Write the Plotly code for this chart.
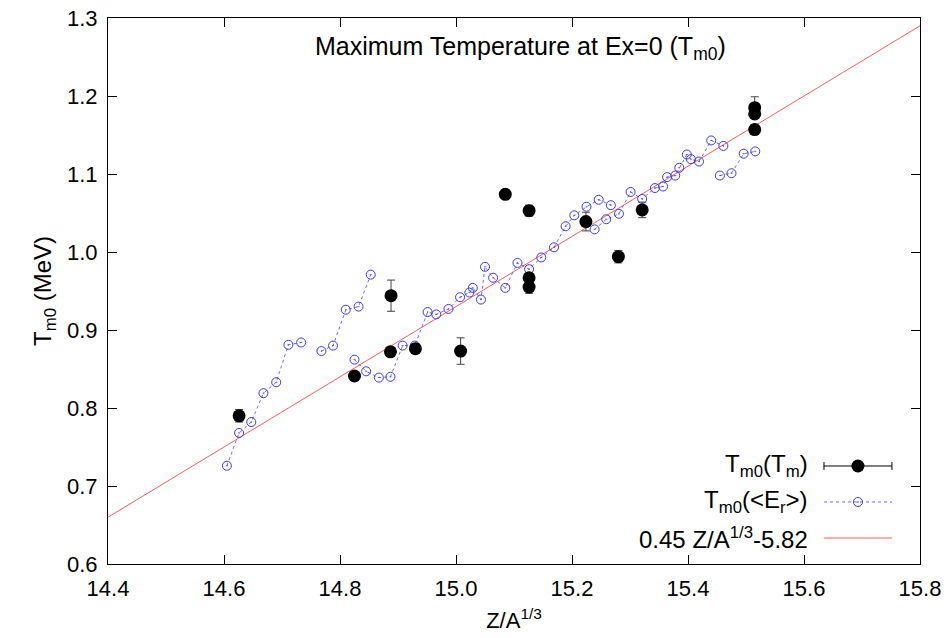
import plotly.graph_objects as go

# ---- data ----
tm_x = [14.626, 14.825, 14.888, 14.887, 14.930, 15.008, 15.085, 15.126, 15.126, 15.126,
        15.224, 15.280, 15.321, 15.515, 15.515, 15.515]
tm_y = [0.790, 0.841, 0.944, 0.872, 0.876, 0.873, 1.074, 1.053, 0.967, 0.955,
        1.039, 0.994, 1.054, 1.185, 1.177, 1.157]
tm_err = [0.008, 0.005, 0.020, 0.006, 0.006, 0.017, 0.005, 0.007, 0.006, 0.008,
          0.012, 0.008, 0.010, 0.014, 0.005, 0.006]

# <Er> series, None separates connected segments
er_x = [14.605, 14.626, 14.647, 14.668, 14.690, 14.711, 14.733, None,
        14.768, 14.788, 14.810, 14.832, 14.853, None,
        14.825, 14.845, 14.867, 14.887, 14.908, 14.929, 14.951, 14.966, 14.987, 15.007,
        15.023, 15.029, 15.043, 15.050, 15.064, 15.085, 15.106, 15.126, 15.147, 15.169,
        15.189, 15.204, 15.225, 15.246, 15.267, None,
        15.239, 15.259, 15.281, 15.301, 15.321, 15.343, 15.357, 15.364, 15.378, 15.385,
        15.398, 15.405, 15.419, 15.440, 15.461, None,
        15.455, 15.475, 15.496, 15.516]
er_y = [0.726, 0.768, 0.782, 0.819, 0.833, 0.881, 0.884, None,
        0.873, 0.880, 0.926, 0.930, 0.971, None,
        0.862, 0.847, 0.839, 0.840, 0.880, 0.880, 0.923, 0.920, 0.927, 0.942,
        0.948, 0.954, 0.939, 0.981, 0.967, 0.954, 0.986, 0.978, 0.993, 1.006,
        1.033, 1.047, 1.058, 1.067, 1.060, None,
        1.029, 1.042, 1.049, 1.077, 1.068, 1.082, 1.084, 1.096, 1.098, 1.108,
        1.125, 1.119, 1.116, 1.143, 1.136, None,
        1.098, 1.101, 1.126, 1.129]

fit_slope = 0.45
fit_icept = -5.82
fit_x = [14.4, 15.8]
fit_y = [fit_slope * v + fit_icept for v in fit_x]

x_ticks = [14.4, 14.6, 14.8, 15.0, 15.2, 15.4, 15.6, 15.8]
x_ticklabels = ["14.4", "14.6", "14.8", "15.0", "15.2", "15.4", "15.6", "15.8"]
y_ticks = [0.6, 0.7, 0.8, 0.9, 1.0, 1.1, 1.2, 1.3]
y_ticklabels = ["0.6", "0.7", "0.8", "0.9", "1.0", "1.1", "1.2", "1.3"]

legend_labels = ["T<sub>m0</sub>(T<sub>m</sub>)", "T<sub>m0</sub>(&lt;E<sub>r</sub>&gt;)",
                 "0.45 Z/A<sup>1/3</sup>-5.82"]

FONT = "Liberation Sans, Arial, sans-serif"
BLUE = "#3a3aff"
BLUE_LINE = "rgba(58,58,255,0.75)"
RED = "rgba(255,40,40,0.75)"

fig = go.Figure()

fig.add_trace(go.Scatter(x=fit_x, y=fit_y, mode="lines",
                         line=dict(color=RED, width=1), showlegend=False))
fig.add_trace(go.Scatter(x=er_x, y=er_y, mode="lines+markers",
                         line=dict(color=BLUE_LINE, width=1, dash="dot"),
                         marker=dict(symbol="circle-open-dot", size=9, color=BLUE,
                                     line=dict(width=1, color=BLUE)),
                         connectgaps=False, showlegend=False))
fig.add_trace(go.Scatter(x=tm_x, y=tm_y, mode="markers",
                         marker=dict(symbol="circle", size=13, color="black"),
                         error_y=dict(type="data", array=tm_err, visible=True,
                                      color="#444444", thickness=1, width=4),
                         showlegend=False))

# ---- manual legend (samples on the right of the text) on an overlay [0,1] axis ----
rows_y = [0.1795, 0.1136, 0.0476]
txt_x = 0.8645
s0, s1, sm = 0.8818, 0.9655, 0.9236
fig.add_trace(go.Scatter(x=[sm], y=[rows_y[0]], xaxis="x2", yaxis="y2", mode="markers",
                         marker=dict(symbol="circle", size=13, color="black"),
                         error_x=dict(type="data", array=[(s1 - s0) / 2], visible=True,
                                      color="black", thickness=1, width=4),
                         showlegend=False, hoverinfo="skip"))
fig.add_trace(go.Scatter(x=[s0, sm, s1], y=[rows_y[1]] * 3, xaxis="x2", yaxis="y2",
                         mode="lines", line=dict(color=BLUE_LINE, width=1, dash="dot"),
                         showlegend=False, hoverinfo="skip"))
fig.add_trace(go.Scatter(x=[sm], y=[rows_y[1]], xaxis="x2", yaxis="y2", mode="markers",
                         marker=dict(symbol="circle-open-dot", size=9, color=BLUE,
                                     line=dict(width=1, color=BLUE)),
                         showlegend=False, hoverinfo="skip"))
fig.add_trace(go.Scatter(x=[s0, s1], y=[rows_y[2]] * 2, xaxis="x2", yaxis="y2",
                         mode="lines", line=dict(color=RED, width=1),
                         showlegend=False, hoverinfo="skip"))

annotations = []
for lab, ry in zip(legend_labels, rows_y):
    annotations.append(dict(x=txt_x, y=ry, xref="paper", yref="paper", text=lab,
                            showarrow=False, xanchor="right", yanchor="middle",
                            font=dict(family=FONT, size=24, color="black")))
annotations.append(dict(x=0.508, y=0.945, xref="paper", yref="paper",
                        text="Maximum Temperature at Ex=0 (T<sub>m0</sub>)",
                        showarrow=False, xanchor="center", yanchor="middle",
                        font=dict(family=FONT, size=25, color="black")))

axis_common = dict(showline=True, linecolor="black", linewidth=1, mirror="ticks",
                   ticks="inside", ticklen=9, tickcolor="black", tickwidth=1,
                   showgrid=False, zeroline=False, ticklabeloverflow="allow",
                   automargin=False,
                   tickfont=dict(family=FONT, size=22, color="black"))

fig.update_layout(
    width=944, height=638,
    margin=dict(l=108, r=24, t=18, b=74),
    paper_bgcolor="white", plot_bgcolor="white",
    annotations=annotations,
    xaxis=dict(range=[14.4, 15.8], tickvals=x_ticks, ticktext=x_ticklabels,
               ticklabelstandoff=5,
               title=dict(text="Z/A<sup>1/3</sup>", font=dict(family=FONT, size=22, color="black"),
                          standoff=12),
               **axis_common),
    yaxis=dict(range=[0.6, 1.3], tickvals=y_ticks, ticktext=y_ticklabels,
               ticklabelstandoff=5,
               title=dict(text="T<sub>m0</sub> (MeV)", font=dict(family=FONT, size=24, color="black"),
                          standoff=8),
               **axis_common),
    xaxis2=dict(range=[0, 1], overlaying="x", visible=False, fixedrange=True),
    yaxis2=dict(range=[0, 1], overlaying="y", visible=False, fixedrange=True),
)

fig.write_html("out.html", config={"displayModeBar": False},
               post_script="document.body.style.margin='0';document.body.style.overflow='hidden';")
